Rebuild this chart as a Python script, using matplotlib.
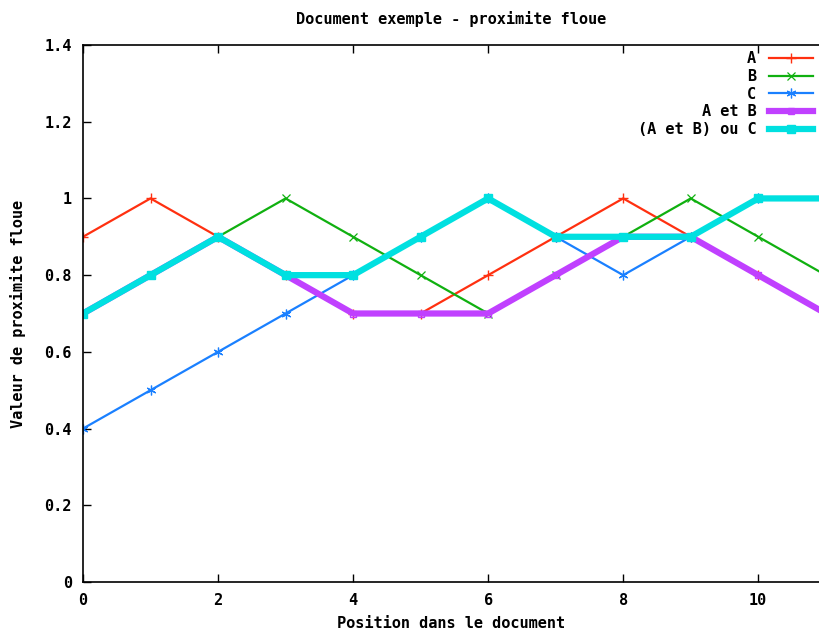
import matplotlib
matplotlib.use("Agg")
import matplotlib.pyplot as plt
from matplotlib.ticker import FuncFormatter

positions = [0, 1, 2, 3, 4, 5, 6, 7, 8, 9, 10, 11]
serie_a = [0.9, 1.0, 0.9, 0.8, 0.7, 0.7, 0.8, 0.9, 1.0, 0.9, 0.8, 0.7]
serie_b = [0.7, 0.8, 0.9, 1.0, 0.9, 0.8, 0.7, 0.8, 0.9, 1.0, 0.9, 0.8]
serie_c = [0.4, 0.5, 0.6, 0.7, 0.8, 0.9, 1.0, 0.9, 0.8, 0.9, 1.0, 1.0]
a_et_b = [0.7, 0.8, 0.9, 0.8, 0.7, 0.7, 0.7, 0.8, 0.9, 0.9, 0.8, 0.7]
a_et_b_ou_c = [0.7, 0.8, 0.9, 0.8, 0.8, 0.9, 1.0, 0.9, 0.9, 0.9, 1.0, 1.0]

plt.rcParams['font.family'] = ['DejaVu Sans Mono']
plt.rcParams['font.weight'] = 'bold'
plt.rcParams['font.size'] = 11

fig = plt.figure(figsize=(8.19, 6.34), dpi=100)
ax = fig.add_axes([83/819, 1 - 582/634, 1 - 83/819, (582 - 45)/634])

ax.plot(positions, serie_a, color='#ff3010', lw=1.6, marker='+', ms=7, mew=1.0, label='A')
ax.plot(positions, serie_b, color='#10b010', lw=1.6, marker='x', ms=6, mew=0.9, label='B')
ax.plot(positions, serie_c, color='#1a80ff', lw=1.6, marker=(6, 2, 0), ms=7, mew=0.9, label='C')
ax.plot(positions, a_et_b, color='#c040ff', lw=4.5, marker='s', ms=5, mfc='none', mew=1.0, label='A et B')
ax.plot(positions, a_et_b_ou_c, color='#00e0e0', lw=4.5, marker='s', ms=6, label='(A et B) ou C')

ax.set_xlim(0, 10.9)
ax.set_ylim(0, 1.4)
ax.set_xticks([0, 2, 4, 6, 8, 10])
ax.set_yticks([0, 0.2, 0.4, 0.6, 0.8, 1.0, 1.2, 1.4])
ax.yaxis.set_major_formatter(FuncFormatter(lambda v, p: '%g' % v))
ax.tick_params(direction='in', top=True, right=False, length=6, width=1, pad=8, labelsize=11)
ax.spines['right'].set_visible(False)
for s in ['left', 'top', 'bottom']:
    ax.spines[s].set_linewidth(1.2)

ax.set_title('Document exemple - proximite floue', fontsize=11, fontweight='bold', pad=15)
ax.set_xlabel('Position dans le document', fontsize=11, fontweight='bold', labelpad=6)
ax.set_ylabel('Valeur de proximite floue', fontsize=11, fontweight='bold', labelpad=13)

leg = ax.legend(loc='upper right', markerfirst=False, frameon=False, handlelength=2.9,
                labelspacing=0.18, borderaxespad=0.1, borderpad=0.3, handletextpad=0.8,
                alignment='right', fontsize=11)
for t in leg.get_texts():
    t.set_ha('right')

fig.savefig('out.png', dpi=100)
